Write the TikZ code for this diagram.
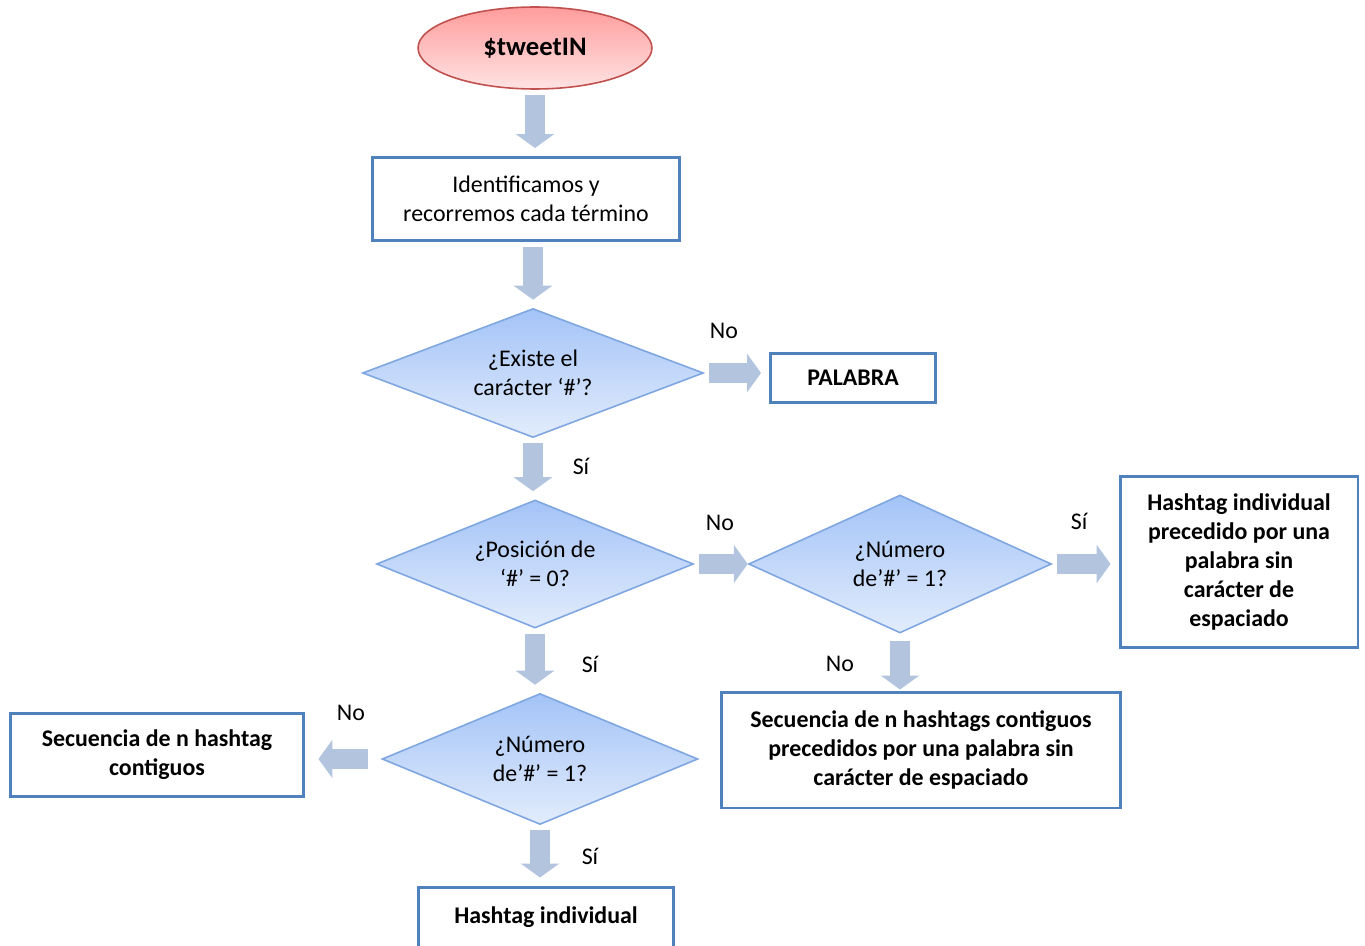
\documentclass[tikz,border=0pt]{standalone}
\usepackage{fontspec}
\setmainfont{Carlito}
\usetikzlibrary{arrows.meta,shapes.geometric}

\definecolor{cajaborde}{HTML}{4F81BD}
\definecolor{flechaazul}{HTML}{B3C4DE}
\definecolor{rombotop}{HTML}{A3C3F7}
\definecolor{rombobot}{HTML}{E2ECFC}
\definecolor{romboborde}{HTML}{7EA6E0}
\definecolor{elipsetop}{HTML}{FF9C9C}
\definecolor{elipsebot}{HTML}{FFE3E3}
\definecolor{elipseborde}{HTML}{C0504D}

\tikzset{
  caja/.style={draw=cajaborde, line width=1.7pt, fill=white, align=center, inner sep=0pt},
  rombo/.style={diamond, draw=romboborde, line width=0.9pt, top color=rombotop, bottom color=rombobot,
                align=center, inner sep=0pt},
  flecha/.style={draw=flechaazul, line width=0.4cm, -{Triangle[width=0.76cm,length=0.28cm]},
                 shorten <=0.1cm, shorten >=0.16cm},
  etiqueta/.style={inner sep=0pt}
}

\begin{document}
\begin{tikzpicture}[x=0.02cm,y=-0.02cm,every node/.style={font=\fontsize{13.6}{16.5}\selectfont}]
    \useasboundingbox (0,0) rectangle (1365,946);
    \clip (0,0) rectangle (1365,946);

    % Inicio
    \node[ellipse,draw=elipseborde,line width=0.9pt,top color=elipsetop,bottom color=elipsebot,
          minimum width=4.68cm,minimum height=1.64cm,inner sep=0pt,font=\fontsize{15.2}{18}\selectfont\bfseries] (tweet) at (535,48) {\$tweetIN};

    % Cajas
    \node[caja,minimum width=6.16cm,minimum height=1.66cm] (ident) at (526,199) {Identificamos y\\recorremos cada término};
    \node[caja,minimum width=3.3cm,minimum height=0.98cm,font=\fontsize{13.6}{16.5}\selectfont\bfseries] (palabra) at (853,378) {PALABRA};
    \node[caja,minimum width=4.76cm,minimum height=3.42cm,font=\fontsize{13.6}{16.5}\selectfont\bfseries] (indpal) at (1239,562) {Hashtag individual\\precedido por una\\palabra sin\\carácter de\\espaciado};
    \node[caja,minimum width=7.98cm,minimum height=2.32cm,font=\fontsize{13.6}{16.5}\selectfont\bfseries] (secpal) at (921,750) {Secuencia de n hashtags contiguos\\precedidos por una palabra sin\\carácter de espaciado};
    \node[caja,minimum width=5.88cm,minimum height=1.66cm,font=\fontsize{13.6}{16.5}\selectfont\bfseries] (sec) at (157,755) {Secuencia de n hashtag\\contiguos};
    \node[caja,minimum width=5.12cm,minimum height=1.2cm,font=\fontsize{13.6}{16.5}\selectfont\bfseries] (ind) at (546,917) {Hashtag individual};

    % Decisiones
    \node[rombo,shape aspect=2.64,minimum width=6.82cm,minimum height=2.58cm] (existe) at (533,373) {¿Existe el\\carácter ‘\#’?};
    \node[rombo,shape aspect=2.48,minimum width=6.34cm,minimum height=2.56cm] (pos) at (535,564) {¿Posición de\\‘\#’ = 0?};
    \node[rombo,shape aspect=2.2,minimum width=6.06cm,minimum height=2.76cm] (num) at (900,564) {¿Número\\de’\#’ = 1?};
    \node[rombo,shape aspect=2.41,minimum width=6.32cm,minimum height=2.62cm] (numb) at (540,759) {¿Número\\de’\#’ = 1?};

    % Etiquetas
    \node[etiqueta] (no1) at (724,331) {No};
    \node[etiqueta] (si1) at (581,466) {Sí};
    \node[etiqueta] (no2) at (720,523) {No};
    \node[etiqueta] (si2) at (1079,521) {Sí};
    \node[etiqueta] (no3) at (840,664) {No};
    \node[etiqueta] (si3) at (590,664) {Sí};
    \node[etiqueta] (no4) at (351,713) {No};
    \node[etiqueta] (si4) at (590,856) {Sí};

    % Flechas
    \draw[flecha] (tweet.south) -- (tweet.south |- ident.north);
    \draw[flecha] (existe.north |- ident.south) -- (existe.north);
    \draw[flecha] (existe.east) -- (existe.east -| palabra.west);
    \draw[flecha] (existe.south) -- (existe.south |- pos.north);
    \draw[flecha,shorten >=0pt] (pos.east) -- (pos.east -| num.west);
    \draw[flecha] (num.east) -- (num.east -| indpal.west);
    \draw[flecha,shorten <=0.14cm,shorten >=0.02cm] (num.south) -- (num.south |- secpal.north);
    \draw[flecha] (pos.south) -- (pos.south |- numb.north);
    \draw[flecha,shorten <=0.26cm,shorten >=0.26cm] (numb.west) -- (numb.west -| sec.east);
    \draw[flecha] (numb.south) -- (numb.south |- ind.north);

\end{tikzpicture}
\end{document}
